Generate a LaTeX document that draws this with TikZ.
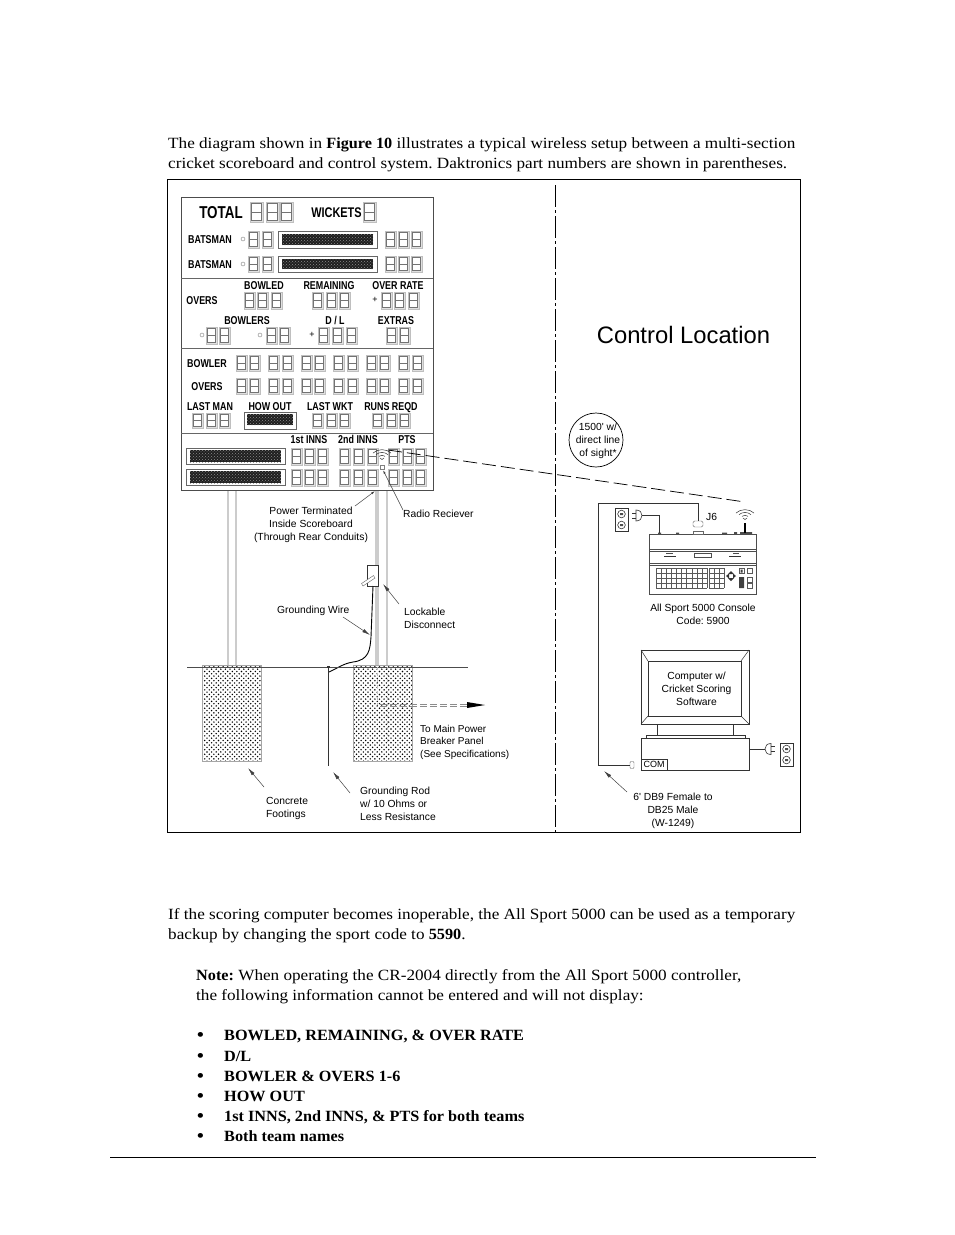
\documentclass[tikz,border=0pt]{standalone}
\usepackage{fontspec}
\usepackage{xcolor}
\usepackage{tikz}
\usetikzlibrary{arrows.meta, patterns, positioning, calc}
\setmainfont{Liberation Serif}[FakeStretch=1.1, BoldFeatures={FakeStretch=1.04}]
\newfontfamily\armfont{Liberation Sans}
\newfontfamily\sbfont[FakeStretch=0.78]{Liberation Sans}
\frenchspacing

\pgfdeclarepatternformonly{footdots}{\pgfqpoint{-1pt}{-1pt}}{\pgfqpoint{3.6pt}{3.6pt}}{\pgfqpoint{4.6pt}{4.6pt}}{
  \pgfpathcircle{\pgfqpoint{0pt}{0pt}}{0.8pt}
  \pgfpathcircle{\pgfqpoint{2.3pt}{2.3pt}}{0.8pt}
  \pgfusepath{fill}
}

\tikzset{
  thinline/.style={line width=0.6pt, black!80},
  leader/.style={line width=0.5pt, black!75, -{Latex[length=8pt,width=3.5pt]}},
  bodytext/.style={anchor=base west, inner sep=0pt, font=\fontsize{15.6}{18}\selectfont},
  sketchtext/.style={inner sep=0pt, align=center, yshift=-1pt, font=\armfont\fontsize{10.3}{13}\selectfont},
  sblabel/.style={inner sep=0pt, text height=8pt, text depth=0pt, font=\sbfont\bfseries\fontsize{11.4}{11}\selectfont},
  footing/.style={draw=black!35, line width=0.4pt, pattern=footdots, pattern color=black},
  post/.style={fill=black!20, draw=none},
  outlet/.pic={
    \draw[thinline, fill=white] (0,0) rectangle (13,23);
    \draw[thinline] (6.5,6) circle[radius=3.8pt] (6.5,17) circle[radius=3.8pt];
    \fill[black!70] (5,5) rectangle (8,7) (5,16) rectangle (8,18);
  },
  plughead/.pic={
    \draw[thinline, fill=white] (4,-5.5) .. controls (8,-5.5) and (10,-3) .. (10,0)
      .. controls (10,3) and (8,5.5) .. (4,5.5) -- cycle;
    \draw[thinline] (4,-2.5) -- (0,-2.5) (4,2.5) -- (0,2.5);
  },
  wifi/.pic={
    \foreach \r in {3,6,9} {
      \draw[line width=0.5pt, black!80] (-\r,-\r*0.55) .. controls (-\r*0.5,-\r*1.05) and (\r*0.5,-\r*1.05) .. (\r,-\r*0.55);
    }
    \draw[line width=0.5pt, black!80] (-2,0) -- (0,1.5) -- (2,0);
  },
}

% row of score digits: top, bottom, left edges
\newcommand{\segrow}[4][11]{
  \foreach \sx in {#4} {
    \draw[black!25, fill=black!12, line width=0.4pt] (\sx,#2) rectangle (\sx+#1,#3);
    \draw[black!55, fill=white, line width=0.65pt] (\sx+1.5,#2+1.5) rectangle (\sx+#1-1.5,#3-1.5);
    \draw[black!55, line width=0.65pt] (\sx+1.5,#2/2+#3/2) -- (\sx+#1-1.5,#2/2+#3/2);
  }
}
% message display: outer box, then dark matrix
\newcommand{\msgboard}[8]{
  \draw[black!60, fill=white, line width=0.5pt] (#1,#2) rectangle (#3,#4);
  \fill[black!88] (#5,#6) rectangle (#7,#8);
  \fill[pattern=crosshatch dots, pattern color=black!45] (#5,#6) rectangle (#7,#8);
}

\begin{document}
\begin{tikzpicture}[x=1pt, y=-1pt]
\useasboundingbox (0,0) rectangle (954,1235);
\fill[white] (0,0) rectangle (954,1235);

% page text
\node[bodytext] (introA) at (168,148) {The diagram shown in \textbf{Figure 10} illustrates a typical wireless setup between a multi-section};
\node[bodytext] (introB) at (168,168) {cricket scoreboard and control system. Daktronics part numbers are shown in parentheses.};
\node[bodytext] (backupA) at (168,919) {If the scoring computer becomes inoperable, the All Sport 5000 can be used as a temporary};
\node[bodytext] (backupB) at (168,939) {backup by changing the sport code to \textbf{5590}.};
\node[bodytext] (noteA) at (196,980) {\textbf{Note:} When operating the CR-2004 directly from the All Sport 5000 controller,};
\node[bodytext] (noteB) at (196,1000) {the following information cannot be entered and will not display:};
\foreach \by/\btext in {1040/{BOWLED, REMAINING, \& OVER RATE},1061/{D/L},1081/{BOWLER \& OVERS 1-6},1101/{HOW OUT},1121/{1st INNS, 2nd INNS, \& PTS for both teams},1141/{Both team names}} {
    \node[bodytext, font=\fontsize{20}{20}\selectfont] (bullet\by) at (196.5,\by+1.5) {\textbullet};
    \node[bodytext] (item\by) at (224,\by) {\textbf{\btext}};
}
\draw[line width=0.7pt] (110,1157) -- (816,1157);

% frame and divider
\draw[line width=0.7pt] (167.5,179.5) rectangle (800.5,832.5);
\draw[line width=0.5pt, dash pattern=on 22pt off 3pt on 3pt off 3pt] (555.5,185) -- (555.5,832);

% posts and conduit
\foreach \px/\pw in {227/2,235/2,375/4,386/2} {
    \fill[post] (\px,490) rectangle (\px+\pw,665);
}

% scoreboard
\draw[black!70, line width=0.7pt, fill=white] (181,197) rectangle (433,490);
\foreach \ly in {278,348,433} {
    \draw[black!60, line width=0.6pt] (181,\ly) -- (433,\ly);
}
\node[sblabel, text height=12pt, font=\sbfont\bfseries\fontsize{17.2}{17}\selectfont] (lblTotal) at (221,212) {TOTAL};
\segrow[13]{202}{222}{250,266,280}
\node[sblabel, text height=10.5pt, font=\sbfont\bfseries\fontsize{14}{14}\selectfont] (lblWickets) at (336.5,212) {WICKETS};
\segrow[13]{202}{222}{363}
\foreach \ry/\rt/\rb in {239/231/248,264/256/272} {
    \node[sblabel] (lblBat\ry) at (210,\ry) {BATSMAN};
    \draw[black!50, line width=0.4pt] (243,\ry) circle[radius=2pt];
    \segrow{\rt}{\rb}{248,262}
    \msgboard{278}{\rt}{377}{\rb}{282}{\rt+3}{373}{\rb-3}
    \segrow{\rt}{\rb}{385,398,411}
}
\node[sblabel] (lblBowled) at (264,285) {BOWLED};
\node[sblabel] (lblRemaining) at (329,285) {REMAINING};
\node[sblabel] (lblOverRate) at (398,285) {OVER RATE};
\node[sblabel] (lblOversA) at (202,300) {OVERS};
\segrow{292}{309}{244,257,271}
\segrow{292}{309}{312,326,339}
\node[inner sep=0pt, font=\armfont\fontsize{9}{9}\selectfont] (plusA) at (375,300) {+};
\segrow{292}{309}{381,394,408}
\node[sblabel] (lblBowlers) at (247,320) {BOWLERS};
\node[sblabel] (lblDL) at (335,320) {D / L};
\node[sblabel] (lblExtras) at (396,320) {EXTRAS};
\draw[black!50, line width=0.4pt] (202,335) circle[radius=2pt] (260,335) circle[radius=2pt];
\segrow{327}{344}{206,219,266,279}
\node[inner sep=0pt, font=\armfont\fontsize{9}{9}\selectfont] (plusB) at (312,335) {+};
\segrow{327}{344}{318,332,346}
\segrow{327}{344}{386,399}
\node[sblabel] (lblBowler) at (207,363) {BOWLER};
\node[sblabel] (lblOversB) at (207,386) {OVERS};
\segrow{355}{371}{236,249,268,282,301,314,333,347,366,379,398,412}
\segrow{378}{394}{236,249,268,282,301,314,333,347,366,379,398,412}
\node[sblabel] (lblLastMan) at (210,406) {LAST MAN};
\node[sblabel] (lblHowOut) at (270,406) {HOW OUT};
\node[sblabel] (lblLastWkt) at (330,406) {LAST WKT};
\node[sblabel] (lblRunsReqd) at (391,406) {RUNS REQD};
\segrow{413}{428}{192,206,219}
\msgboard{244}{412}{296}{429}{247}{414}{293}{425}
\segrow{413}{428}{312,326,339}
\segrow{413}{428}{372,386,399}
\node[sblabel] (lblFirst) at (309,439) {1st INNS};
\node[sblabel] (lblSecond) at (358,439) {2nd INNS};
\node[sblabel] (lblPts) at (407,439) {PTS};
\foreach \ry/\rb in {448/465,469/486} {
    \msgboard{186}{\ry}{285}{\rb-1}{190}{\ry+2}{281}{\rb-3}
    \segrow{\ry}{\rb}{291,304,317,339,353,367,388,402,415}
}
\pic at (382,458) {wifi};
\draw[black!50, line width=0.4pt, fill=white] (380,465) rectangle (384,469);

% radio link
\coordinate (rxEnd) at (388,450);
\coordinate (txEnd) at (745,502);
\draw[line width=0.75pt, dash pattern=on 14pt off 5pt] (rxEnd) -- (txEnd);

% disconnect and grounding
\draw[thinline, fill=white] (367,565) rectangle (378,586);
\draw[black!60, line width=0.4pt, fill=white] (361.5,583.5) -- (373.5,575.5) -- (375,578) -- (363,586) -- cycle;
\draw[line width=0.9pt] (373,586) -- (371,637) .. controls (370,650) and (369,660) .. (353,662)
    .. controls (342,664) and (340,667) .. (329,672);

% footings, ground line, rod
\draw[footing] (202,665) rectangle (261,761);
\draw[footing] (353,665) rectangle (412,761);
\draw[black!70, line width=0.5pt] (187,667) -- (468,667);
\draw[line width=0.8pt, black!80] (328,666) -- (328,766);
\fill[black!80] (326.5,665.5) rectangle (329.5,668);
\draw[black!25, line width=0.7pt, dashed] (377,667) -- (377,705);
\draw[black!25, line width=0.7pt, dashed] (387,667) -- (387,745);
\draw[black!45, line width=0.5pt, dash pattern=on 7pt off 3pt] (380,704) -- (467,704);
\draw[black!45, line width=0.5pt, dash pattern=on 7pt off 3pt] (380,706.5) -- (467,706.5);
\fill (467,702) -- (485,705) -- (467,708) -- cycle;

% labels on the board side
\node[sketchtext] (lblPower) at (311,524) {Power Terminated\\Inside Scoreboard\\(Through Rear Conduits)};
\coordinate (ptPower) at (375,491);
\draw[leader, -{Latex[length=4pt,width=2pt]}] (355,506) -- (ptPower);
\node[sketchtext, anchor=west] (lblRadio) at (403,513) {Radio Reciever};
\coordinate (ptRadio) at (383,470);
\draw[leader, -{Latex[length=4pt,width=2pt]}] (lblRadio.north west) -- (ptRadio);
\node[sketchtext, anchor=west] (lblGrndWire) at (277,610) {Grounding Wire};
\coordinate (ptWire) at (370,635);
\draw[leader] (343,617) -- (ptWire);
\node[sketchtext, anchor=west, align=left] (lblLock) at (404,617) {Lockable\\Disconnect};
\coordinate (ptLock) at (383,584);
\draw[leader] (399,604) -- (ptLock);
\node[sketchtext, anchor=west, align=left, font=\armfont\fontsize{10}{12.5}\selectfont] (lblMain) at (420,741) {To Main Power\\Breaker Panel\\(See Specifications)};
\node[sketchtext, anchor=west, align=left] (lblConcrete) at (266,807) {Concrete\\Footings};
\coordinate (ptConcrete) at (248,768);
\draw[leader] (264,787) -- (ptConcrete);
\node[sketchtext, anchor=west, align=left] (lblRod) at (360,803) {Grounding Rod\\w/ 10 Ohms or\\Less Resistance};
\coordinate (ptRod) at (333,772);
\draw[leader] (350,793) -- (ptRod);

% control location
\node[inner sep=0pt, font=\armfont\fontsize{23.8}{25}\selectfont] (lblControl) at (683.5,335) {Control Location};
\draw[line width=0.7pt] (596,440) circle[radius=27pt];
\node[sketchtext] (lblRange) at (598,440) {1500' w/\\direct line\\of sight*};

% console
\draw[black!70, line width=0.6pt, fill=white] (649,534) rectangle (756,594);
\draw[black!70, line width=0.5pt] (649,549.5) -- (756,549.5) (649,551.5) -- (756,551.5) (649,563) -- (756,563) (649,565) -- (756,565);
\fill[black!70] (658,532.5) rectangle (661,534) (676,532.5) rectangle (679,534)
    (722,532.5) rectangle (727,534) (734,532) rectangle (737,534) (740,532) rectangle (752,534);
\draw[line width=1.2pt] (745,523) -- (745,533);
\draw[black!70, line width=0.4pt] (694,553.5) rectangle (711,557);
\draw[black!80, line width=0.9pt] (664,556) -- (676,556) (729,556) -- (741,556);
\draw[black!70, line width=0.7pt] (666,553) -- (673,553) (733,553) -- (739,553);
\foreach \kx in {656,661.1,...,707.1} {
    \draw[black!65, line width=0.35pt] (\kx,568) -- (\kx,588);
}
\foreach \ky in {568,573,...,588} {
    \draw[black!65, line width=0.35pt] (656,\ky) -- (707,\ky);
    \draw[black!65, line width=0.35pt] (709,\ky) -- (724,\ky);
}
\foreach \kx in {709,714,719,724} {
    \draw[black!65, line width=0.35pt] (\kx,568) -- (\kx,588);
}
\fill[black!80] (731,571) -- (734,574) -- (728,574) -- cycle (731,581) -- (734,578) -- (728,578) -- cycle
    (726,576) -- (729,573.5) -- (729,578.5) -- cycle (736,576) -- (733,573.5) -- (733,578.5) -- cycle;
\draw[black!65, line width=0.35pt] (739,568.5) rectangle (744,573.5) (747,568.5) rectangle (752,573.5)
    (747,577) rectangle (752,582) (747,583.5) rectangle (752,588.5);
\fill[black!75] (739,577) rectangle (744,588) (740.5,569.5) rectangle (742.5,572.5);
\pic at (745,518) {wifi};
\node[sketchtext, anchor=west] (lblJ6) at (706,516) {J6};
\node[sketchtext] (lblConsole) at (703,613.5) {All Sport 5000 Console\\Code: 5900};

% computer
\draw[black!80, line width=0.6pt, fill=white] (641,650) rectangle (749,724);
\draw[black!80, line width=0.6pt] (648,661) rectangle (741,716);
\draw[black!80, line width=0.5pt] (641,650) -- (648,661) (749,650) -- (741,661) (641,724) -- (648,716) (749,724) -- (741,716);
\node[sketchtext] (lblComputer) at (696.5,688) {Computer w/\\Cricket Scoring\\Software};
\draw[black!80, line width=0.6pt] (657,724) -- (657,735) (733,724) -- (733,735);
\draw[black!80, line width=0.6pt] (646,738) -- (646,735) -- (745,735) -- (745,738);
\draw[black!80, line width=0.6pt, fill=white] (641,738) rectangle (749,770);
\node[draw=black!80, line width=0.6pt, inner sep=0pt, minimum width=26pt, minimum height=11pt, font=\armfont\fontsize{9}{9}\selectfont] (comPort) at (654,764.5) {COM};

% cabling
\node[draw=black!60, fill=white, rounded corners=1.5pt, line width=0.4pt, inner sep=0pt, minimum width=10pt, minimum height=6pt] (consoleConn) at (698,524) {};
\node[draw=black!60, fill=white, rounded corners=1pt, line width=0.4pt, inner sep=0pt, minimum width=4pt, minimum height=7pt] (comConn) at (632,765) {};
\draw[thinline] (consoleConn.north) -- (698,503) -- (598,503) -- (598,765) -- (comConn.west);
\draw[black!60, line width=0.4pt] (693,531.5) rectangle (703,534);
\pic at (615,508) {outlet};
\pic at (632,515.5) {plughead};
\draw[thinline] (642,515.5) -- (659,515.5) -- (659,533);
\pic at (780,743) {outlet};
\pic[xscale=-1] at (775,749) {plughead};
\draw[thinline] (765,749) -- (749,749);

% cable label
\node[sketchtext] (lblCable) at (673,809.5) {6' DB9 Female to\\DB25 Male\\(W-1249)};
\coordinate (ptCable) at (604,771);
\draw[leader] (627,792) -- (ptCable);
\end{tikzpicture}
\end{document}
